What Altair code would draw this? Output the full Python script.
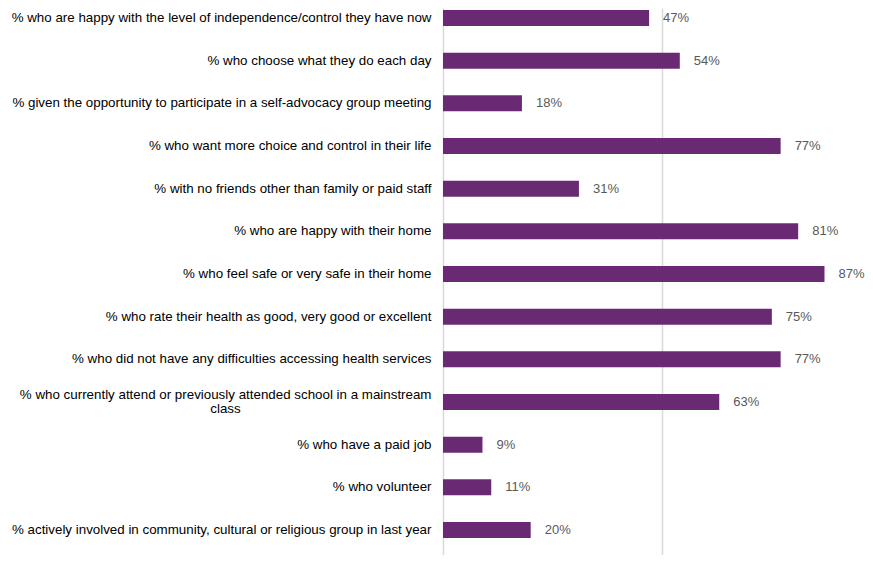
import altair as alt
import pandas as pd

categories = [
    "% who are happy with the level of independence/control they have now",
    "% who choose what they do each day",
    "% given the opportunity to participate in a self-advocacy group meeting",
    "% who want more choice and control in their life",
    "% with no friends other than family or paid staff",
    "% who are happy with their home",
    "% who feel safe or very safe in their home",
    "% who rate their health as good, very good or excellent",
    "% who did not have any difficulties accessing health services",
    "% who currently attend or previously attended school in a mainstream",
    "% who have a paid job",
    "% who volunteer",
    "% actively involved in community, cultural or religious group in last year",
]
second_lines = ["", "", "", "", "", "", "", "", "", "class", "", "", ""]
values = [47, 54, 18, 77, 31, 81, 87, 75, 77, 63, 9, 11, 20]

df = pd.DataFrame({"label": categories, "value": values, "line2": second_lines})

FONT = "Liberation Sans"
LABEL_SIZE = 13.35

yscale = alt.Scale(paddingInner=0.625, paddingOuter=0.328, range=[-12, 544], round=False)
xscale = alt.Scale(domain=[0, 96.24], nice=False, zero=True)

y_axis = alt.Y(
    "label:N",
    sort=categories,
    title=None,
    scale=yscale,
    axis=alt.Axis(
        labelFontSize=LABEL_SIZE,
        labelFont=FONT,
        labelColor="#000000",
        labelPadding=12,
        labelLimit=0,
        labelOffset={
            "condition": {"test": "indexof(datum.label, 'mainstream') >= 0", "value": -7},
            "value": 0,
        },
        ticks=False,
        domain=False,
    ),
)
y_plain = alt.Y("label:N", sort=categories, title=None, scale=yscale)

x_axis = alt.X(
    "value:Q",
    title=None,
    scale=xscale,
    axis=alt.Axis(
        values=[0, 50],
        labels=False,
        ticks=False,
        domain=False,
        grid=True,
        gridColor="#D9D9D9",
        gridWidth=1.5,
    ),
)
x_plain = alt.X("value:Q", title=None, scale=xscale)

bars = alt.Chart(df).mark_bar(color="#6A2A73").encode(x=x_axis, y=y_axis)

text = (
    alt.Chart(df)
    .transform_calculate(lbl="datum.value + '%'")
    .mark_text(align="left", baseline="middle", dx=14, fontSize=13, font=FONT, color="#595959")
    .encode(x=x_plain, y=y_plain, text="lbl:N")
)

line2 = (
    alt.Chart(df)
    .transform_filter("datum.line2 != ''")
    .mark_text(align="center", baseline="middle", dy=7, fontSize=LABEL_SIZE, font=FONT, color="#000000")
    .encode(x=alt.value(-217.5), y=y_plain, text="line2:N")
)

chart = (
    alt.layer(bars, text, line2)
    .properties(
        width=422,
        height=544,
        autosize=alt.AutoSizeParams(type="none"),
        padding={"left": 435, "top": 0, "right": 0, "bottom": 3},
    )
    .configure_view(stroke=None)
)

chart.save("out.html", embed_options={"renderer": "svg", "actions": False})
